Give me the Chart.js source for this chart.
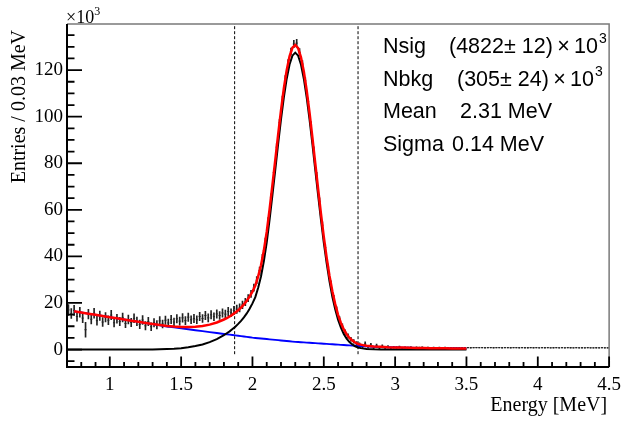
<!DOCTYPE html>
<html>
<head>
<meta charset="utf-8">
<script src="https://cdn.jsdelivr.net/npm/chart.js@4.4.1/dist/chart.umd.min.js"></script>
<style>
    html, body { margin: 0; padding: 0; background: #fff; }
    #wrap { width: 628px; height: 422px; position: relative; }
</style>
</head>
<body>
<div id="wrap"><canvas id="fit-chart"></canvas></div>
<script>
// Histogram binning (MeV)
const histStart = 0.70;
const binWidth = 0.02;

// Entries per bin (x10^3)
const histY = [
    17.0, 15.5, 16.8, 14.2, 16.0,
    13.5, 8.5, 15.2, 13.0, 15.6, 12.4, 14.5, 11.8, 13.9, 12.6,
    14.8, 11.5, 13.2, 12.0, 13.8, 11.2, 12.9, 11.6, 13.4, 12.1,
    10.8, 12.7, 10.2, 12.0, 9.8, 11.5, 10.6, 12.3, 11.0, 12.6,
    11.4, 12.9, 11.8, 13.2, 12.2, 13.6, 12.4, 13.9, 12.8, 13.3,
    12.8, 14.2, 13.3, 14.6, 13.6, 14.9, 14.1, 15.3, 14.6, 15.7,
    15.2, 16.3, 15.8, 16.8, 17.3,
    17.9, 19.2, 20.4, 22.1, 23.9, 26.6,
    29.8, 33.9, 39.4, 46.4, 55.2, 65.4, 76.0, 86.9, 97.4, 107.3, 116.1, 123.0, 128.0, 131.2, 131.6,
    127.6, 122.6, 115.4, 106.5, 96.4, 85.5, 74.6, 63.7, 53.4, 43.8, 35.4,
    28.2, 22.1, 17.1, 13.1, 10.0, 7.5, 5.8, 4.4, 3.5, 2.7, 2.2,
    1.5, 2.4, 1.2, 1.9, 0.9, 1.6, 0.8, 1.4, 0.8, 1.2, 0.7, 1.0, 0.9, 1.1, 0.7, 0.9, 0.8,
    1.0, 0.82, 0.92, 0.86, 0.96, 0.82, 0.9, 0.84, 0.88, 0.82,
    0.86, 0.8, 0.85, 0.82, 0.84, 0.78, 0.84, 0.8, 0.82, 0.79,
    0.82, 0.78, 0.8, 0.83, 0.79, 0.81, 0.77, 0.8, 0.82, 0.78,
    0.8, 0.81, 0.77, 0.8, 0.79, 0.77, 0.81, 0.79, 0.77, 0.8,
    0.78, 0.77, 0.8, 0.77, 0.79, 0.76, 0.78, 0.77, 0.8, 0.76,
    0.77, 0.79, 0.76, 0.78, 0.76, 0.79, 0.77, 0.75, 0.78, 0.76,
    0.77, 0.75, 0.78, 0.76, 0.74, 0.77, 0.75, 0.78, 0.76, 0.75
];

// Error per bin (x10^3)
const histErr = [
    2.3, 2.1, 2.2, 2.0, 2.1,
    2.0, 3.2, 2.1, 2.0, 2.1, 1.9, 2.0, 1.9, 2.0, 1.9,
    2.0, 1.8, 1.9, 1.8, 1.9, 1.8, 1.9, 1.8, 1.9, 1.8,
    1.8, 1.9, 1.8, 1.8, 1.7, 1.8, 1.8, 1.8, 1.7, 1.8,
    1.7, 1.8, 1.7, 1.8, 1.7, 1.8, 1.7, 1.8, 1.7, 1.8,
    1.7, 1.8, 1.7, 1.8, 1.7, 1.8, 1.7, 1.8, 1.7, 1.8,
    1.7, 1.8, 1.7, 1.8, 1.8,
    1.7, 1.6, 1.6, 1.5, 1.5, 1.5,
    1.5, 1.5, 1.5, 1.5, 1.5, 1.5, 1.5, 1.5, 1.5, 1.5, 1.5, 1.5, 1.5, 1.6, 1.6,
    1.6, 1.5, 1.5, 1.5, 1.5, 1.5, 1.5, 1.4, 1.4, 1.4, 1.3,
    1.3, 1.2, 1.2, 1.1, 1.0, 1.0, 0.9, 0.8, 0.8, 0.7, 0.7,
    0.7, 0.9, 0.6, 0.8, 0.5, 0.7, 0.5, 0.6, 0.4, 0.5, 0.4, 0.4, 0.4, 0.4, 0.3, 0.3, 0.3,
    0.2, 0.18, 0.2, 0.17, 0.2, 0.16, 0.18, 0.16, 0.17, 0.16,
    0.17, 0.15, 0.16, 0.15, 0.16, 0.14, 0.16, 0.15, 0.15, 0.14,
    0.15, 0.14, 0.15, 0.15, 0.14, 0.15, 0.14, 0.14, 0.15, 0.14,
    0.14, 0.15, 0.14, 0.14, 0.14, 0.13, 0.14, 0.14, 0.13, 0.14,
    0.14, 0.13, 0.14, 0.13, 0.14, 0.13, 0.13, 0.13, 0.14, 0.13,
    0.13, 0.14, 0.13, 0.13, 0.13, 0.14, 0.13, 0.12, 0.13, 0.13,
    0.13, 0.12, 0.13, 0.13, 0.12, 0.13, 0.12, 0.13, 0.12, 0.12
];

// Fit curves sampled at these energies (MeV)
const curveX = [
    0.70, 0.75, 0.80, 0.85, 0.90, 0.95, 1.00, 1.05, 1.10, 1.15, 1.20,
    1.25, 1.30, 1.35, 1.40, 1.45, 1.50, 1.55, 1.60, 1.65, 1.70, 1.75,
    1.80, 1.82, 1.84, 1.86, 1.88, 1.90, 1.92, 1.94, 1.96, 1.98,
    2.00, 2.02, 2.04, 2.06, 2.08, 2.10, 2.12, 2.14, 2.16, 2.18,
    2.20, 2.22, 2.24, 2.26, 2.28, 2.30, 2.32, 2.34, 2.36, 2.38,
    2.40, 2.42, 2.44, 2.46, 2.48, 2.50, 2.52, 2.54, 2.56, 2.58,
    2.60, 2.62, 2.64, 2.66, 2.68, 2.70, 2.72, 2.74, 2.76, 2.78, 2.80,
    2.85, 2.90, 2.95, 3.00, 3.05, 3.10, 3.15, 3.20, 3.25, 3.30, 3.35, 3.40, 3.45, 3.50
];

// Background component (blue)
const bkgY = [
    null, 16.4, 15.9, 15.4, 14.9, 14.4, 13.9, 13.4, 12.9, 12.4, 11.9,
    11.4, 10.9, 10.4, 9.9, 9.5, 9.1, 8.7, 8.3, 7.9, 7.5, 7.1,
    6.7, 6.54, 6.38, 6.22, 6.06, 5.9, 5.74, 5.58, 5.42, 5.26,
    5.1, 4.98, 4.86, 4.74, 4.62, 4.5, 4.38, 4.26, 4.14, 4.02,
    3.9, 3.78, 3.66, 3.54, 3.42, 3.3, 3.22, 3.14, 3.06, 2.98,
    2.9, 2.82, 2.74, 2.66, 2.58, 2.5, 2.42, 2.34, 2.26, 2.18,
    2.1, 2.02, 1.94, 1.86, 1.78, 1.7, 1.62, 1.54, 1.47, 1.41, 1.35,
    1.22, 1.1, 1.0, 0.92, 0.84, 0.77, 0.7, 0.64, 0.59, 0.54, 0.5, 0.46, 0.43, 0.4
];

// Signal component (black)
const sigY = [
    0, 0, 0, 0, 0, 0, 0, 0, 0, 0, 0,
    0, 0.05, 0.1, 0.2, 0.35, 0.6, 1.0, 1.5, 2.2, 3.2, 4.5,
    6.2, 7.0, 7.8, 8.8, 9.8, 11.0, 12.3, 13.8, 15.5, 17.5,
    19.8, 22.5, 26.5, 31.5, 38.0, 46.0, 55.8, 66.4, 77.3, 88.3,
    98.8, 108.3, 116.3, 122.4, 126.2, 127.5, 126.2, 122.4, 116.3, 108.3,
    98.8, 88.3, 77.3, 66.4, 55.8, 45.9, 37.1, 29.3, 22.7, 17.3,
    12.8, 9.4, 6.7, 4.7, 3.2, 2.2, 1.4, 0.9, 0.6, 0.4, 0.25,
    0.1, 0.05, 0, 0, 0, 0, 0, 0, 0, 0, 0, 0, 0, 0
];

// Total fit (red)
const totY = [
    null, 16.4, 15.9, 15.4, 14.9, 14.4, 13.9, 13.4, 12.9, 12.4, 11.9,
    11.4, 10.95, 10.5, 10.1, 9.85, 9.7, 9.7, 9.8, 10.1, 10.7, 11.6,
    12.9, 13.5, 14.2, 15.0, 15.9, 16.9, 18.0, 19.4, 20.9, 22.8,
    24.9, 27.5, 31.4, 36.2, 42.6, 50.5, 60.2, 70.7, 81.4, 92.3,
    102.7, 112.1, 120.0, 125.9, 129.6, 130.8, 129.4, 125.5, 119.4, 111.3,
    101.7, 91.1, 80.0, 69.1, 58.4, 48.4, 39.5, 31.6, 25.0, 19.5,
    14.9, 11.4, 8.6, 6.6, 5.0, 3.9, 3.0, 2.4, 2.1, 1.8, 1.6,
    1.32, 1.15, 1.0, 0.92, 0.84, 0.77, 0.7, 0.64, 0.59, 0.54, 0.5, 0.46, 0.43, 0.4
];

// Signal window markers (MeV)
const windowEdges = [1.875, 2.74];

// Fit results box
const statNames = ['Nsig', 'Nbkg', 'Mean', 'Sigma'];
const statValues = ['(4822\u00b1 12)\u2009\u00d7\u200910', '(305\u00b1 24)\u2009\u00d7\u200910', '2.31 MeV', '0.14 MeV'];
const statPowers = ['3', '3', '', ''];

const binCentres = histY.map((_, i) => +(histStart + (i + 0.5) * binWidth).toFixed(3));
const pts = (ys) => curveX.map((x, i) => ({ x: x, y: ys[i] }));

// ROOT-like frame: inward ticks, titles, exponent and stats text
const rootStyle = {
    id: 'rootStyle',
    afterDraw(chart) {
        const { ctx, chartArea: a, scales: { x, y } } = chart;
        ctx.save();

        ctx.strokeStyle = '#7a7a7a';
        ctx.lineWidth = 1.5;
        ctx.beginPath();
        ctx.moveTo(a.left, a.top);
        ctx.lineTo(a.right, a.top);
        ctx.lineTo(a.right, a.bottom);
        ctx.stroke();

        ctx.strokeStyle = '#000';
        ctx.lineWidth = 2;
        ctx.beginPath();
        ctx.moveTo(a.left, a.top);
        ctx.lineTo(a.left, a.bottom);
        ctx.lineTo(a.right, a.bottom);
        ctx.stroke();

        ctx.lineWidth = 1.8;
        ctx.beginPath();
        x.ticks.forEach(t => {
            const px = x.getPixelForValue(t.value);
            const len = t.label !== '' ? 10.5 : 5;
            ctx.moveTo(px, a.bottom);
            ctx.lineTo(px, a.bottom - len);
        });
        y.ticks.forEach(t => {
            const py = y.getPixelForValue(t.value);
            const len = t.label !== '' ? 15 : 7.5;
            ctx.moveTo(a.left, py);
            ctx.lineTo(a.left + len, py);
        });
        ctx.stroke();

        ctx.fillStyle = '#000';
        ctx.textBaseline = 'alphabetic';

        // x10^3 exponent
        ctx.textAlign = 'left';
        ctx.font = '18px "Liberation Serif"';
        ctx.fillText('\u00d710', a.left - 1, 23);
        const w = ctx.measureText('\u00d710').width;
        ctx.font = '12px "Liberation Serif"';
        ctx.fillText('3', a.left - 1 + w, 15);

        // axis titles
        ctx.font = '20px "Liberation Serif"';
        ctx.textAlign = 'right';
        ctx.fillText('Energy [MeV]', a.right - 2, 411);
        ctx.save();
        ctx.translate(25, 30);
        ctx.rotate(-Math.PI / 2);
        ctx.fillText('Entries / 0.03 MeV', 0, 0);
        ctx.restore();

        // fit results
        const valueX = [449, 457, 460, 452];
        const baseY = [53, 85.5, 118.3, 151];
        ctx.textAlign = 'left';
        statNames.forEach((name, i) => {
            ctx.font = '21.5px "Liberation Sans"';
            ctx.fillText(name, 383, baseY[i]);
            ctx.fillText(statValues[i], valueX[i], baseY[i]);
            if (statPowers[i]) {
                const vw = ctx.measureText(statValues[i]).width;
                ctx.font = '14px "Liberation Sans"';
                ctx.fillText(statPowers[i], valueX[i] + vw + 1, baseY[i] - 10);
            }
        });

        ctx.restore();
    }
};

const tickFont = { family: 'Liberation Serif', size: 19 };

new Chart(document.getElementById('fit-chart'), {
    type: 'line',
    data: {
        datasets: [{
            label: 'Total fit',
            data: pts(totY),
            borderColor: '#ff0000',
            borderWidth: 2.5,
            pointRadius: 0,
            order: 0
        }, {
            label: 'Signal',
            data: pts(sigY),
            borderColor: '#000000',
            borderWidth: 2,
            pointRadius: 0,
            order: 1
        }, {
            label: 'Background',
            data: pts(bkgY),
            borderColor: '#0000ff',
            borderWidth: 1.9,
            pointRadius: 0,
            order: 2
        }, {
            type: 'bar',
            label: 'Data errors',
            data: binCentres.map((x, i) => ({ x: x, y: [histY[i] - histErr[i], histY[i] + histErr[i]] })),
            backgroundColor: '#222222',
            borderWidth: 0,
            barThickness: 1,
            order: 3
        }, {
            type: 'scatter',
            label: 'Data',
            data: binCentres.map((x, i) => ({ x: x, y: histY[i] })),
            showLine: false,
            pointStyle: 'line',
            pointRadius: 1.1,
            borderColor: '#333333',
            borderWidth: 1,
            order: 3
        }].concat(windowEdges.map(e => ({
            label: 'Window ' + e,
            data: [{ x: e, y: -2 }, { x: e, y: 140 }],
            borderColor: '#000000',
            borderWidth: 1,
            borderDash: [3, 2],
            pointRadius: 0,
            order: 4
        })))
    },
    options: {
        responsive: true,
        maintainAspectRatio: false,
        animation: false,
        layout: { padding: { top: 24, right: 12, left: 0, bottom: 0 } },
        plugins: {
            legend: { display: false },
            tooltip: { enabled: false }
        },
        scales: {
            x: {
                type: 'linear',
                min: 0.7,
                max: 4.5,
                offset: false,
                grid: { display: false, drawTicks: false, offset: false },
                border: { display: false },
                ticks: {
                    stepSize: 0.1,
                    autoSkip: false,
                    maxRotation: 0,
                    includeBounds: false,
                    padding: 7,
                    color: '#000',
                    font: tickFont,
                    callback: function (value) {
                        const major = Math.abs(value * 2 - Math.round(value * 2)) < 1e-6;
                        return major ? String(Math.round(value * 10) / 10) : '';
                    }
                },
                afterFit: function (scale) { scale.height = 55; }
            },
            y: {
                type: 'linear',
                min: -7.5,
                max: 139.8,
                grid: { display: false, drawTicks: false },
                border: { display: false },
                ticks: {
                    stepSize: 5,
                    autoSkip: false,
                    includeBounds: false,
                    padding: 4,
                    color: '#000',
                    font: tickFont,
                    callback: function (value) {
                        return Math.round(value) % 20 === 0 ? String(Math.round(value)) : '';
                    }
                },
                afterFit: function (scale) { scale.width = 67; }
            }
        }
    },
    plugins: [rootStyle]
});
</script>
</body>
</html>
